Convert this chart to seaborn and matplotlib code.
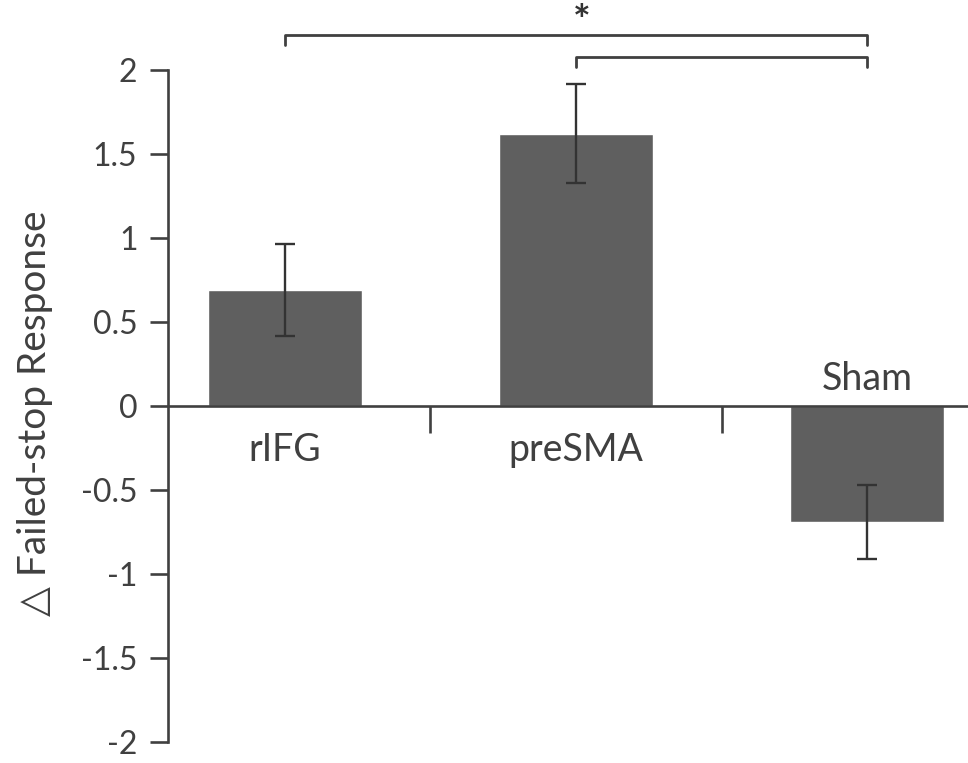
import matplotlib
matplotlib.use("Agg")
import matplotlib.pyplot as plt
import seaborn as sns
import pandas as pd

# Stimulation conditions and their mean change in failed-stop responses (± SEM)
conditions = ["rIFG", "preSMA", "Sham"]
means = [0.69, 1.62, -0.69]
sems = [0.275, 0.295, 0.22]
ytick_values = [-2, -1.5, -1, -0.5, 0, 0.5, 1, 1.5, 2]
ytick_labels = ["-2", "-1.5", "-1", "-0.5", "0", "0.5", "1", "1.5", "2"]
ylabel = "\u25b3 Failed-stop Response"
# significance brackets: (from condition, to condition)
brackets = [("rIFG", "Sham"), ("preSMA", "Sham")]
star_text = "*"

sns.set_theme(style="white")
plt.rcParams["font.family"] = ["Lato", "DejaVu Sans"]

ink = "#404040"
bar_color = "#5f5f5f"

fig = plt.figure(figsize=(9.68, 7.63), dpi=100)
ax = fig.add_axes([168 / 968, 21 / 763, 1 - 168 / 968, 672 / 763])

df = pd.DataFrame({"condition": conditions, "mean": means})
sns.barplot(data=df, x="condition", y="mean", color=bar_color, width=0.527,
            saturation=1, errorbar=None, ax=ax, zorder=2)

ax.errorbar(range(len(conditions)), means, yerr=sems, fmt="none",
            ecolor="#333333", elinewidth=1.7, capsize=7, capthick=1.7, zorder=3)

ax.set_xlim(-0.402, 2.347)
ax.set_ylim(-2, 2)
ax.set_yticks(ytick_values)
ax.set_yticklabels(ytick_labels)
ax.set_xticks([])
ax.set_xlabel("")
ax.set_ylabel("")

for side in ["top", "right", "bottom"]:
    ax.spines[side].set_visible(False)
ax.spines["left"].set_color(ink)
ax.spines["left"].set_linewidth(1.9)
ax.tick_params(axis="y", direction="out", length=13, width=1.9, color=ink,
               labelcolor=ink, labelsize=23, pad=9, left=True)

# zero line and category separators
ax.axhline(0, color=ink, lw=1.9, zorder=4, clip_on=False)
ax.vlines([0.5, 1.5], -0.16, 0, color=ink, lw=1.9, zorder=4)

# category names: below the axis for positive bars, above for negative ones
for i, (name, m) in enumerate(zip(conditions, means)):
    y = -0.26 if m >= 0 else 0.16
    ax.text(i, y, name, ha="center", va="center", fontsize=27, color=ink)

fig.text(35 / 968, 1 - 413 / 763, ylabel, rotation=90, ha="center",
         va="center", fontsize=28, color=ink)

# significance brackets above the plot
levels = [2.206, 2.077]
drop = 0.06
for (a, b), y in zip(brackets, levels):
    x0, x1 = conditions.index(a), conditions.index(b)
    ax.plot([x0, x0, x1, x1], [y - drop, y, y, y - drop], color=ink, lw=2.0,
            clip_on=False)
ax.text(1.02, 2.28, star_text, ha="center", va="center", fontsize=30,
        fontweight="bold", color="#333333")

fig.savefig("out.png", dpi=100)
